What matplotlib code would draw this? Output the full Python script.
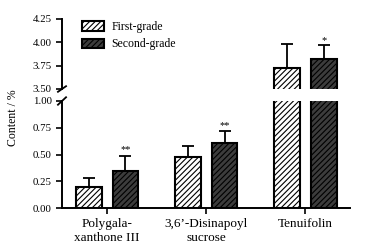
import matplotlib
matplotlib.use("Agg")
import matplotlib.pyplot as plt
import numpy as np

plt.rcParams['font.family'] = ['Liberation Serif', 'DejaVu Serif']
plt.rcParams['hatch.linewidth'] = 0.8

categories = ["Polygala-\nxanthone III", "3,6\u2019-Disinapoyl\nsucrose", "Tenuifolin"]
series_names = ["First-grade", "Second-grade"]
first_vals = [0.20, 0.48, 3.73]
first_err = [0.08, 0.10, 0.25]
second_vals = [0.35, 0.61, 3.82]
second_err = [0.14, 0.11, 0.15]
marks = ["**", "**", "*"]
low_ticks = [0.00, 0.25, 0.50, 0.75, 1.00]
high_ticks = [3.50, 3.75, 4.00, 4.25]

fig = plt.figure(figsize=(3.66, 2.45), dpi=100)
L, R = 62/366, 350/366
ax_top = fig.add_axes([L, 1-89/245, R-L, (89-19)/245])
ax_bot = fig.add_axes([L, 1-208/245, R-L, (208-101)/245])

x = np.arange(len(categories))
w = 0.26
off = 0.185
styles = [dict(facecolor='white', edgecolor='black', hatch='//////'),
          dict(facecolor='#3c3c3c', edgecolor='black', hatch='//////')]

for ax in (ax_top, ax_bot):
    for i, (vals, errs) in enumerate([(first_vals, first_err), (second_vals, second_err)]):
        xs = x + (-off if i == 0 else off)
        ax.bar(xs, vals, w, linewidth=1.5, label=series_names[i], zorder=2, **styles[i])
        ax.errorbar(xs, vals, yerr=[np.zeros(len(errs)), errs], fmt='none',
                    ecolor='black', elinewidth=1.3, capsize=4.5, capthick=1.3, zorder=1)
    ax.set_xlim(-0.455, 2.45)
    for s in ('top', 'right'):
        ax.spines[s].set_visible(False)
    ax.spines['left'].set_linewidth(1.4)
    ax.spines['bottom'].set_linewidth(1.4)
    ax.tick_params(axis='y', direction='out', length=4, width=1.2, labelsize=7.8)
    ax.tick_params(axis='x', direction='out', length=4, width=1.2, labelsize=9.5)

ax_top.set_ylim(3.5, 4.25)
ax_top.set_yticks(high_ticks)
ax_top.set_yticklabels([f"{t:.2f}" for t in high_ticks])
ax_top.spines['bottom'].set_visible(False)
ax_top.set_xticks([])

ax_bot.set_ylim(0, 1.0)
ax_bot.set_yticks(low_ticks)
ax_bot.set_yticklabels([f"{t:.2f}" for t in low_ticks])
ax_bot.set_xticks(x)
ax_bot.set_xticklabels(categories)

# significance marks
for i in range(len(categories)):
    xs = x[i] + off
    top = second_vals[i] + second_err[i]
    ax = ax_top if top > 1.0 else ax_bot
    ax.text(xs, top + (0.005 if ax is ax_top else 0.01), marks[i], ha='center', va='bottom', fontsize=7.5)

# break marks
d = 0.014
kw = dict(color='black', clip_on=False, linewidth=1.3)
ax_top.plot([-d, d], [-0.04, 0.04], transform=ax_top.transAxes, **kw)
ax_bot.plot([-d, d], [0.965, 1.035], transform=ax_bot.transAxes, **kw)

leg = ax_top.legend(loc='upper left', bbox_to_anchor=(0.045, 1.07), frameon=False,
                    fontsize=8.5, handlelength=1.9, handleheight=0.9, borderaxespad=0.2,
                    labelspacing=0.45, handletextpad=0.6)

fig.text(0.035, 1-118/245, "Content / %", rotation=90, ha='center', va='center', fontsize=8.5)

fig.savefig("out.png", dpi=100)
